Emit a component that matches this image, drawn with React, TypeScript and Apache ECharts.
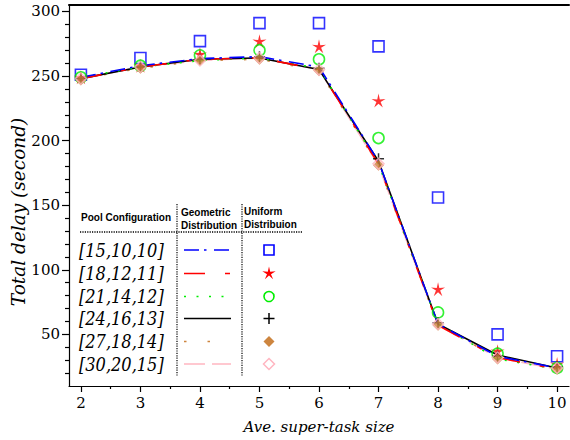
import React, { useEffect, useRef } from 'react';
import * as echarts from 'echarts';

// ---------- data ----------
const xs = [2, 3, 4, 5, 6, 7, 8, 9, 10];
const poolConfigs = ['[15,10,10]', '[18,12,11]', '[21,14,12]', '[24,16,13]', '[27,18,14]', '[30,20,15]'];

// Geometric distribution (lines)
const geo_15_10_10 = [249, 258, 263.5, 265, 257, 184, 58, 33, 24];
const geo_18_12_11 = [248, 257, 263, 264, 255, 182, 57, 32, 23];
const geo_21_14_12 = [249, 257, 262, 264, 256, 182, 58, 31, 23];
const geo_24_16_13 = [248, 257, 263, 264, 255, 184, 58, 34, 24];
const geo_27_18_14 = [248, 256, 262, 263, 254, 181, 57, 32, 23];
const geo_30_20_15 = [248, 257, 262, 264, 255, 181, 57, 32, 23];

// Uniform distribution (markers)
const uni_15_10_10 = [251, 264, 277, 291, 291, 273, 156, 50, 33];
const uni_18_12_11 = [249, 258, 267, 277, 273, 231, 85, 37, 27];
const uni_21_14_12 = [249, 258, 266, 270, 263, 202, 67, 35, 24];
const uni_24_16_13 = [248, 257, 263, 265, 256, 186, 59, 33, 25];
const uni_27_18_14 = [247, 256, 262, 263, 254, 181, 57, 31, 23];
const uni_30_20_15 = [248, 257, 262, 264, 255, 182, 58, 32, 24];

const yMajorTicks = [50, 100, 150, 200, 250, 300];
const yMinorTicks = [20, 30, 40, 60, 70, 80, 90, 110, 120, 130, 140, 160, 170, 180, 190, 210, 220, 230, 240, 260, 270, 280, 290];
const xMajorTicks = [2, 3, 4, 5, 6, 7, 8, 9, 10];
const xMinorTicks = [2.5, 3.5, 4.5, 5.5, 6.5, 7.5, 8.5, 9.5];

const xTitle = 'Ave. super-task size';
const yTitle = 'Total delay (second)';

const geoSeries = [geo_15_10_10, geo_18_12_11, geo_21_14_12, geo_24_16_13, geo_27_18_14, geo_30_20_15];
const uniSeries = [uni_15_10_10, uni_18_12_11, uni_21_14_12, uni_24_16_13, uni_27_18_14, uni_30_20_15];

// ---------- styles ----------
const colors = ['#0000ff', '#ff0000', '#00ee00', '#000000', '#cd853f', '#ffb6c1'];
const dashes: (number[] | 'solid')[] = [
  [15, 5, 2.5, 7.5],
  [21, 20, 5, 20],
  [2, 10.5],
  'solid',
  [2.5, 21],
  [21, 7],
];

function starPoints(cx: number, cy: number, R: number, r: number): number[][] {
  const pts: number[][] = [];
  for (let i = 0; i < 10; i++) {
    const a = (-90 + i * 36) * Math.PI / 180;
    const rr = i % 2 === 0 ? R : r;
    pts.push([cx + rr * Math.cos(a), cy + rr * Math.sin(a)]);
  }
  return pts;
}
const starPath = 'path://' + starPoints(10, 10, 10, 3).map((p, i) => (i === 0 ? 'M' : 'L') + p[0].toFixed(2) + ' ' + p[1].toFixed(2)).join(' ') + ' Z';
const plusPath = 'path://M5 0 L5 10 M0 5 L10 5';

const serif = 'DejaVu Serif';
const serifCond = 'DejaVu Serif Condensed';
const sans = 'Arial';

export default function App() {
  const ref = useRef<HTMLDivElement>(null);
  useEffect(() => {
    if (!ref.current) return;
    const chart = echarts.init(ref.current, undefined, { renderer: 'svg' });

    const lineSeries = geoSeries.map((vals, i) => ({
      type: 'line',
      name: 'geo ' + poolConfigs[i],
      data: xs.map((x, j) => [x, vals[j]]),
      showSymbol: false,
      symbol: 'none',
      lineStyle: { color: colors[i], width: 1.6, type: dashes[i] },
      z: 3 + (5 - i),
    }));

    const symbolDefs = [
      { symbol: 'rect', size: 11, fill: 'transparent', stroke: colors[0], bw: 1.6 },
      { symbol: starPath, size: 14, fill: colors[1], stroke: colors[1], bw: 0 },
      { symbol: 'circle', size: 11, fill: 'transparent', stroke: colors[2], bw: 1.6 },
      { symbol: plusPath, size: 11, fill: 'transparent', stroke: colors[3], bw: 1.5 },
      { symbol: 'diamond', size: 11, fill: colors[4], stroke: colors[4], bw: 0 },
      { symbol: 'diamond', size: 11, fill: 'transparent', stroke: colors[5], bw: 1.5 },
    ];

    const scatterSeries = uniSeries.map((vals, i) => ({
      type: 'scatter',
      name: 'uni ' + poolConfigs[i],
      data: xs.map((x, j) => [x, vals[j]]),
      symbol: symbolDefs[i].symbol,
      symbolSize: symbolDefs[i].size,
      itemStyle: {
        color: symbolDefs[i].fill,
        borderColor: symbolDefs[i].stroke,
        borderWidth: symbolDefs[i].bw,
      },
      z: 10,
    }));

    // Legend table
    const rowY = [250, 273.5, 296.5, 318.5, 341.5, 364];
    const lx1 = 184, lx2 = 231, mx = 269;
    const graphics: any[] = [];
    const hdr = (text: string, x: number, y: number) => ({ type: 'text', x, y, style: { text, fontFamily: sans, fontWeight: 'bold', fontSize: 10, fill: '#000', verticalAlign: 'middle' } });
    graphics.push(hdr('Pool Configuration', 81, 217));
    graphics.push(hdr('Geometric', 181, 212));
    graphics.push(hdr('Distribution', 181, 225));
    graphics.push(hdr('Uniform', 244, 211));
    graphics.push(hdr('Distribuion', 244, 224));
    graphics.push({ type: 'line', shape: { x1: 80, y1: 232, x2: 302, y2: 232 }, style: { stroke: '#000', lineWidth: 1.5, lineDash: [1.2, 1.2] } });
    graphics.push({ type: 'line', shape: { x1: 177, y1: 204, x2: 177, y2: 376 }, style: { stroke: '#000', lineWidth: 1.2, lineDash: [1.2, 1.2] } });
    graphics.push({ type: 'line', shape: { x1: 242, y1: 204, x2: 242, y2: 376 }, style: { stroke: '#000', lineWidth: 1.2, lineDash: [1.2, 1.2] } });

    poolConfigs.forEach((label, i) => {
      const y = rowY[i];
      graphics.push({ type: 'text', x: 79, y: y, style: { text: label, fontFamily: serifCond, fontStyle: 'italic', fontSize: 18, fill: '#000', verticalAlign: 'middle' } });
      const d = dashes[i];
      graphics.push({ type: 'line', shape: { x1: lx1, y1: y, x2: lx2, y2: y }, style: { stroke: colors[i], lineWidth: 1.6, lineDash: d === 'solid' ? null : d } });
    });
    // legend markers
    graphics.push({ type: 'rect', shape: { x: mx - 5, y: rowY[0] - 5, width: 10, height: 10 }, style: { fill: 'none', stroke: colors[0], lineWidth: 1.6 } });
    graphics.push({ type: 'polygon', shape: { points: starPoints(mx, rowY[1], 7, 2.1) }, style: { fill: colors[1] } });
    graphics.push({ type: 'circle', shape: { cx: mx, cy: rowY[2], r: 5 }, style: { fill: 'none', stroke: colors[2], lineWidth: 1.6 } });
    graphics.push({ type: 'line', shape: { x1: mx - 5.5, y1: rowY[3], x2: mx + 5.5, y2: rowY[3] }, style: { stroke: colors[3], lineWidth: 1.5 } });
    graphics.push({ type: 'line', shape: { x1: mx, y1: rowY[3] - 5.5, x2: mx, y2: rowY[3] + 5.5 }, style: { stroke: colors[3], lineWidth: 1.5 } });
    graphics.push({ type: 'polygon', shape: { points: [[mx, rowY[4] - 5.5], [mx + 5.5, rowY[4]], [mx, rowY[4] + 5.5], [mx - 5.5, rowY[4]]] }, style: { fill: colors[4] } });
    graphics.push({ type: 'polygon', shape: { points: [[mx, rowY[5] - 5.5], [mx + 5.5, rowY[5]], [mx, rowY[5] + 5.5], [mx - 5.5, rowY[5]]] }, style: { fill: 'none', stroke: colors[5], lineWidth: 1.5 } });

    // y-axis title
    graphics.push({ type: 'text', x: 18, y: 212, rotation: Math.PI / 2, style: { text: yTitle, fontFamily: serif, fontStyle: 'italic', fontSize: 18.5, fill: '#000', align: 'center', verticalAlign: 'middle' } });

    const axisBase = { min: 1.8, max: 10.2, type: 'value' as const, splitLine: { show: false } };
    const yBase = { min: 10, max: 305, type: 'value' as const, splitLine: { show: false } };

    chart.setOption({
      animation: false,
      backgroundColor: '#ffffff',
      grid: { left: 69, right: 1, top: 5, bottom: 54 },
      xAxis: [
        {
          ...axisBase,
          position: 'bottom',
          axisLine: { show: true, lineStyle: { color: '#000', width: 1.2 } },
          axisTick: { show: true, length: 6, customValues: xMajorTicks, lineStyle: { color: '#000', width: 1.2 } },
          axisLabel: { customValues: xMajorTicks, fontFamily: serif, fontSize: 15, color: '#000', margin: 9 },
          name: xTitle,
          nameLocation: 'middle',
          nameGap: 33,
          nameTextStyle: { fontFamily: serif, fontStyle: 'italic', fontSize: 15, color: '#000' },
        },
        {
          ...axisBase,
          position: 'bottom',
          axisLine: { show: false },
          axisTick: { show: true, length: 3, customValues: xMinorTicks, lineStyle: { color: '#000', width: 1.2 } },
          axisLabel: { show: false },
        },
        {
          ...axisBase,
          position: 'top',
          axisLine: { show: true, lineStyle: { color: '#000', width: 2 } },
          axisTick: { show: false },
          axisLabel: { show: false },
        },
      ],
      yAxis: [
        {
          ...yBase,
          position: 'left',
          axisLine: { show: true, lineStyle: { color: '#000', width: 1.2 } },
          axisTick: { show: true, length: 7, customValues: yMajorTicks, lineStyle: { color: '#000', width: 1.2 } },
          axisLabel: { customValues: yMajorTicks, fontFamily: serif, fontSize: 15, color: '#000', margin: 9 },
        },
        {
          ...yBase,
          position: 'left',
          axisLine: { show: false },
          axisTick: { show: true, length: 4, customValues: yMinorTicks, lineStyle: { color: '#000', width: 1.2 } },
          axisLabel: { show: false },
        },
      ],
      series: [...lineSeries, ...scatterSeries],
      graphic: graphics,
    });
    return () => chart.dispose();
  }, []);
  return <div ref={ref} style={{ position: 'absolute', left: 0, top: 0, width: 570, height: 440, background: '#fff' }} />;
}
